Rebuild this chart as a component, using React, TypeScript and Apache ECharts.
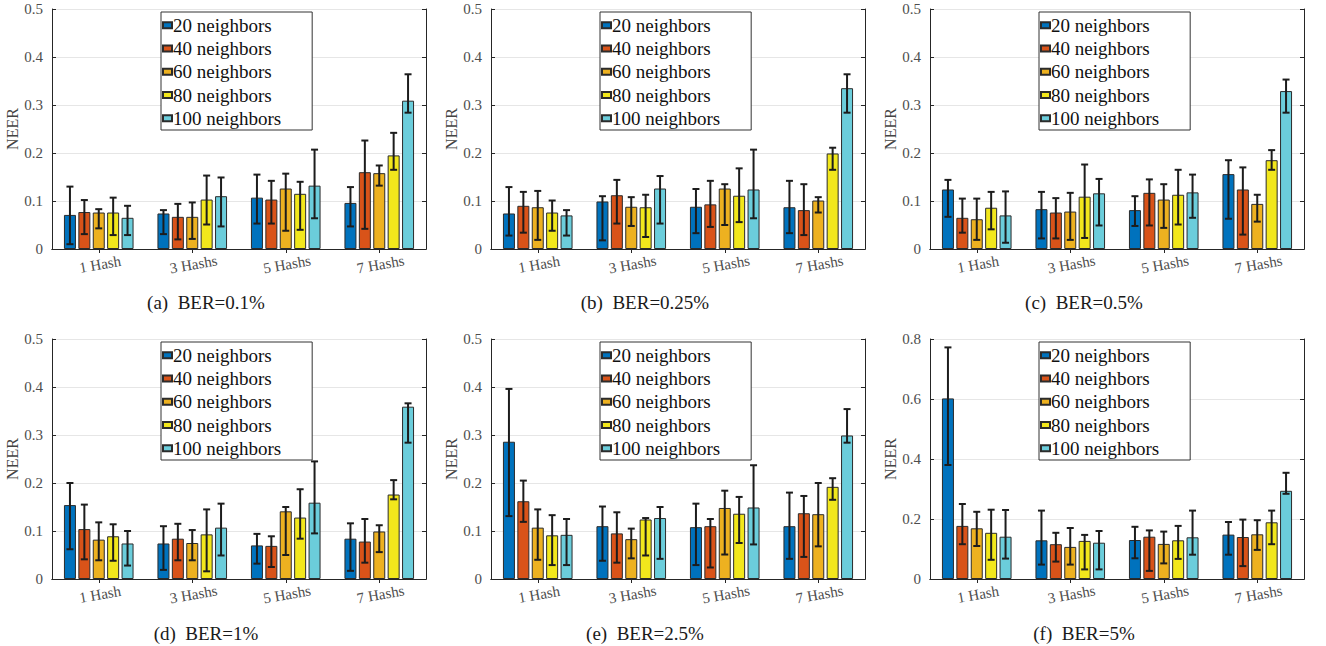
import React, { useEffect, useRef } from 'react';
import * as echarts from 'echarts';

const categories = ['1 Hash', '3 Hashs', '5 Hashs', '7 Hashs'];
const neighborNames = ['20 neighbors', '40 neighbors', '60 neighbors', '80 neighbors', '100 neighbors'];
const colors = ['#0072BD', '#D95319', '#EDB120', '#F2E71C', '#6BCDDB'];

const captions = ['(a)\u00a0\u00a0BER=0.1%', '(b)\u00a0\u00a0BER=0.25%', '(c)\u00a0\u00a0BER=0.5%', '(d)\u00a0\u00a0BER=1%', '(e)\u00a0\u00a0BER=2.5%', '(f)\u00a0\u00a0BER=5%'];
const yMax = [0.5, 0.5, 0.5, 0.5, 0.5, 0.8];
const yStep = [0.1, 0.1, 0.1, 0.1, 0.1, 0.2];

// rows: 20, 40, 60, 80, 100 neighbors; columns: 1, 3, 5, 7 hashes
const meanA = [[0.071, 0.074, 0.107, 0.096], [0.077, 0.067, 0.103, 0.160], [0.076, 0.067, 0.126, 0.158], [0.076, 0.103, 0.115, 0.195], [0.065, 0.110, 0.132, 0.309]];
const lowA = [[0.010, 0.031, 0.053, 0.047], [0.031, 0.020, 0.053, 0.042], [0.043, 0.021, 0.038, 0.132], [0.029, 0.051, 0.040, 0.165], [0.029, 0.047, 0.064, 0.284]];
const highA = [[0.130, 0.081, 0.155, 0.129], [0.102, 0.094, 0.142, 0.226], [0.083, 0.097, 0.157, 0.174], [0.107, 0.153, 0.140, 0.242], [0.090, 0.149, 0.207, 0.364]];

const meanB = [[0.074, 0.099, 0.088, 0.087], [0.090, 0.112, 0.093, 0.081], [0.087, 0.088, 0.126, 0.101], [0.076, 0.087, 0.111, 0.199], [0.070, 0.126, 0.124, 0.335]];
const lowB = [[0.028, 0.018, 0.033, 0.033], [0.034, 0.053, 0.046, 0.029], [0.019, 0.048, 0.050, 0.076], [0.038, 0.025, 0.056, 0.165], [0.028, 0.053, 0.064, 0.284]];
const highB = [[0.129, 0.110, 0.125, 0.142], [0.119, 0.144, 0.142, 0.135], [0.121, 0.108, 0.135, 0.108], [0.101, 0.113, 0.168, 0.211], [0.081, 0.152, 0.207, 0.364]];

const meanC = [[0.124, 0.083, 0.081, 0.156], [0.065, 0.076, 0.117, 0.124], [0.062, 0.078, 0.103, 0.094], [0.086, 0.109, 0.113, 0.185], [0.070, 0.116, 0.118, 0.329]];
const lowC = [[0.067, 0.022, 0.048, 0.063], [0.034, 0.022, 0.049, 0.030], [0.019, 0.019, 0.044, 0.057], [0.041, 0.023, 0.051, 0.165], [0.013, 0.049, 0.065, 0.284]];
const highC = [[0.144, 0.119, 0.110, 0.185], [0.105, 0.106, 0.145, 0.170], [0.105, 0.117, 0.135, 0.113], [0.119, 0.176, 0.165, 0.206], [0.120, 0.146, 0.155, 0.353]];

const meanD = [[0.154, 0.074, 0.070, 0.084], [0.104, 0.084, 0.069, 0.078], [0.082, 0.075, 0.141, 0.099], [0.089, 0.093, 0.128, 0.176], [0.074, 0.107, 0.159, 0.359]];
const lowD = [[0.062, 0.019, 0.032, 0.017], [0.041, 0.039, 0.025, 0.034], [0.039, 0.039, 0.050, 0.056], [0.038, 0.016, 0.084, 0.166], [0.028, 0.049, 0.095, 0.284]];
const highD = [[0.200, 0.110, 0.094, 0.116], [0.155, 0.115, 0.089, 0.125], [0.118, 0.102, 0.150, 0.112], [0.114, 0.145, 0.187, 0.206], [0.100, 0.157, 0.245, 0.366]];

const meanE = [[0.286, 0.110, 0.108, 0.110], [0.162, 0.095, 0.110, 0.137], [0.107, 0.083, 0.148, 0.135], [0.091, 0.124, 0.136, 0.192], [0.092, 0.127, 0.149, 0.299]];
const lowE = [[0.131, 0.038, 0.029, 0.042], [0.119, 0.034, 0.024, 0.046], [0.040, 0.043, 0.051, 0.068], [0.029, 0.049, 0.075, 0.165], [0.029, 0.042, 0.072, 0.284]];
const highE = [[0.396, 0.151, 0.157, 0.180], [0.205, 0.139, 0.125, 0.173], [0.145, 0.105, 0.184, 0.200], [0.133, 0.127, 0.171, 0.210], [0.125, 0.150, 0.237, 0.354]];

const meanF = [[0.602, 0.129, 0.130, 0.148], [0.177, 0.116, 0.141, 0.140], [0.169, 0.107, 0.117, 0.149], [0.154, 0.127, 0.129, 0.189], [0.141, 0.121, 0.139, 0.294]];
const lowF = [[0.380, 0.048, 0.069, 0.081], [0.116, 0.058, 0.027, 0.043], [0.110, 0.048, 0.052, 0.097], [0.064, 0.032, 0.067, 0.116], [0.068, 0.032, 0.081, 0.284]];
const highF = [[0.772, 0.228, 0.174, 0.190], [0.250, 0.154, 0.162, 0.198], [0.224, 0.170, 0.158, 0.196], [0.231, 0.147, 0.177, 0.228], [0.230, 0.160, 0.228, 0.354]];

const means = [meanA, meanB, meanC, meanD, meanE, meanF];
const lows = [lowA, lowB, lowC, lowD, lowE, lowF];
const highs = [highA, highB, highC, highD, highE, highF];

// layout
const gridLefts = [52, 491, 930];
const gridTops = [9, 339];
const gridW = 374;
const gridH = 240;
const captionY = [302, 633];
const barW = 12;
const pitch = barW * 1.2;
const serif = 'Liberation Serif';

function buildOption() {
  const grid: any[] = [];
  const xAxis: any[] = [];
  const yAxis: any[] = [];
  const series: any[] = [];
  const legend: any[] = [];
  const graphic: any[] = [];
  const errSeries: any[] = [];

  for (let p = 0; p < 6; p++) {
    const col = p % 3;
    const row = Math.floor(p / 3);
    const left = gridLefts[col];
    const top = gridTops[row];
    grid.push({ left, top, width: gridW, height: gridH, containLabel: false });

    const xBottom = xAxis.length;
    xAxis.push({
      type: 'category', gridIndex: p, data: categories, position: 'bottom',
      axisLine: { show: true, lineStyle: { color: '#262626', width: 1 } },
      axisTick: { show: true, inside: true, length: 4, alignWithLabel: true, lineStyle: { color: '#262626' } },
      axisLabel: { show: true, rotate: 10, align: 'center', verticalAlign: 'top', margin: 8, fontFamily: serif, fontSize: 15, color: '#4d4d4d' },
      splitLine: { show: false },
    });
    xAxis.push({
      type: 'category', gridIndex: p, data: categories, position: 'top',
      axisLine: { show: true, lineStyle: { color: '#262626', width: 1 } },
      axisTick: { show: true, inside: true, length: 4, alignWithLabel: true, lineStyle: { color: '#262626' } },
      axisLabel: { show: false }, splitLine: { show: false },
    });
    const yLeft = yAxis.length;
    yAxis.push({
      type: 'value', gridIndex: p, min: 0, max: yMax[p], interval: yStep[p], position: 'left',
      name: 'NEER', nameLocation: 'middle', nameGap: 30, nameRotate: 90,
      nameTextStyle: { fontFamily: serif, fontSize: 16, color: '#444' },
      axisLine: { show: true, lineStyle: { color: '#262626', width: 1 } },
      axisTick: { show: true, inside: true, length: 4, lineStyle: { color: '#262626' } },
      axisLabel: { show: true, margin: 9, fontFamily: serif, fontSize: 15, color: '#4d4d4d' },
      splitLine: { show: true, lineStyle: { color: '#e6e6e6', width: 1 } },
    });
    yAxis.push({
      type: 'value', gridIndex: p, min: 0, max: yMax[p], interval: yStep[p], position: 'right',
      axisLine: { show: true, lineStyle: { color: '#262626', width: 1 } },
      axisTick: { show: true, inside: true, length: 4, lineStyle: { color: '#262626' } },
      axisLabel: { show: false }, splitLine: { show: false },
    });

    const errData: any[] = [];
    for (let s = 0; s < 5; s++) {
      series.push({
        type: 'bar', name: neighborNames[s], xAxisIndex: xBottom, yAxisIndex: yLeft,
        data: means[p][s], barWidth: barW, barGap: '20%',
        itemStyle: { color: colors[s], borderColor: '#2b2b2b', borderWidth: 1 },
        z: 2,
      });
      for (let c = 0; c < categories.length; c++) {
        errData.push([c, lows[p][s][c], highs[p][s][c], s]);
      }
    }
    errSeries.push({
      type: 'custom', name: 'errorbar' + p, xAxisIndex: xBottom, yAxisIndex: yLeft,
      data: errData, encode: { x: 0, y: [1, 2] }, z: 5,
      renderItem: (params: any, api: any) => {
        const c = api.value(0);
        const lo = api.value(1);
        const hi = api.value(2);
        const s = api.value(3);
        const a = api.coord([c, lo]);
        const b = api.coord([c, hi]);
        const x = a[0] + (s - 2) * pitch;
        const cap = 3.5;
        const st = { stroke: '#1c1c1c', lineWidth: 2 };
        return {
          type: 'group',
          children: [
            { type: 'line', shape: { x1: x, y1: b[1], x2: x, y2: a[1] }, style: st },
            { type: 'line', shape: { x1: x - cap, y1: b[1], x2: x + cap, y2: b[1] }, style: st },
            { type: 'line', shape: { x1: x - cap, y1: a[1], x2: x + cap, y2: a[1] }, style: st },
          ],
        };
      },
    });

    legend.push({
      data: neighborNames, orient: 'vertical', left: left + 109, top: top + 3,
      backgroundColor: '#ffffff', borderColor: '#333', borderWidth: 1,
      padding: [1.5, 31, 0, 1], itemGap: 0, itemWidth: 9, itemHeight: 6, icon: 'rect',
      selectedMode: false,
      textStyle: { fontFamily: serif, fontSize: 19, lineHeight: 23.3, color: '#111', padding: [0, 0, 0, -4] },
      z: 10,
    });

    graphic.push({
      type: 'text', x: left + 154, y: captionY[row],
      style: { text: captions[p], fontFamily: serif, fontSize: 19, fill: '#1a1a1a', textAlign: 'center', textVerticalAlign: 'middle' },
    });
  }

  return {
    animation: false,
    backgroundColor: '#ffffff',
    textStyle: { fontFamily: serif },
    grid, xAxis, yAxis, legend, graphic,
    series: [...series, ...errSeries],
  };
}

export default function App() {
  const ref = useRef<HTMLDivElement>(null);
  useEffect(() => {
    if (!ref.current) return;
    const chart = echarts.init(ref.current, undefined, { renderer: 'svg' });
    chart.setOption(buildOption());
    return () => chart.dispose();
  }, []);
  return <div ref={ref} style={{ position: 'absolute', left: 0, top: 0, width: 1326, height: 646 }} />;
}
